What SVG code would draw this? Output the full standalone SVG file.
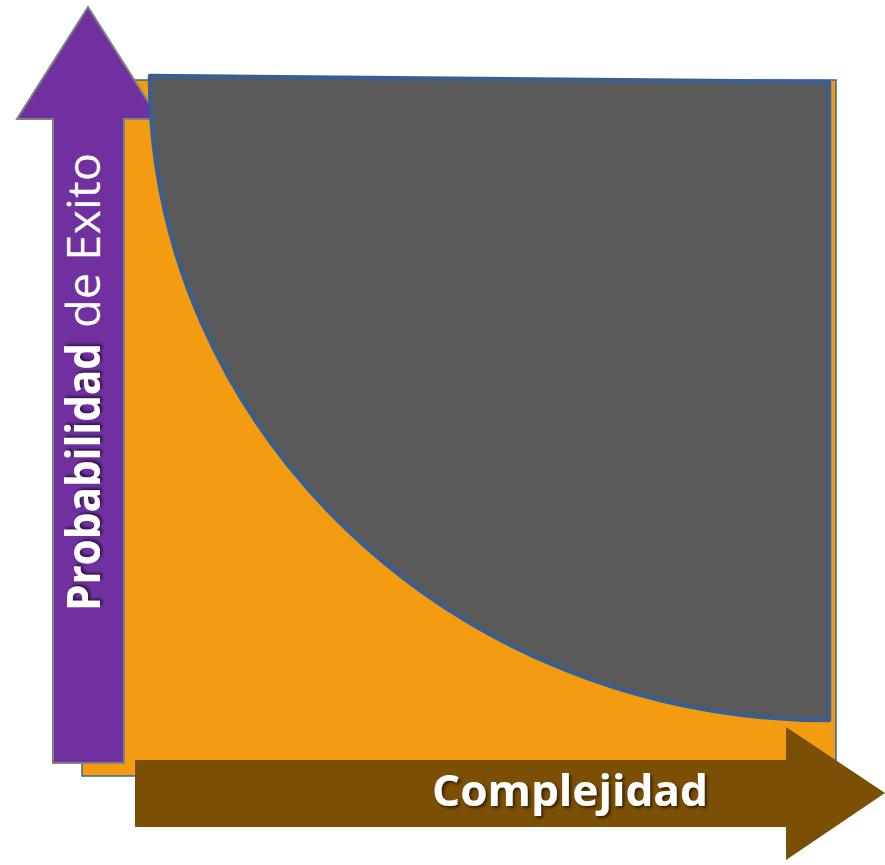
<svg xmlns="http://www.w3.org/2000/svg" width="885" height="865" viewBox="0 0 885 865">
  <defs>
    <style>
      .lbl { fill: #ffffff; font-family: "Open Sans", "Liberation Sans", sans-serif; }
      .b { font-weight: 700; }
    </style>
    <filter id="sh" x="-10%" y="-30%" width="120%" height="160%">
      <feDropShadow dx="2" dy="2" stdDeviation="1.5" flood-color="#000000" flood-opacity="0.6"/>
    </filter>
  </defs>
  <rect width="885" height="865" fill="#ffffff"/>
  <g id="background">
    <rect x="82" y="80" width="754" height="696" fill="#F39C12" stroke="#2F6AA0" stroke-width="1.5"/>
  </g>
  <g id="axis-x">
    <polygon points="135,760 786,760 786,727 885,793 786,860 786,827 135,827" fill="#7B4F05"/>
    <text class="lbl b" x="432" y="806" font-size="43" textLength="276" lengthAdjust="spacingAndGlyphs" filter="url(#sh)">Complejidad</text>
  </g>
  <g id="axis-y">
    <polygon points="88,7 159,119 124,119 124,763 53,763 53,119 17,119" fill="#7030A0" stroke="#808080" stroke-width="2"/>
    <g transform="translate(100,611) rotate(-90)">
      <text class="lbl b" x="0" y="0" font-size="46" textLength="268" lengthAdjust="spacingAndGlyphs" filter="url(#sh)">Probabilidad</text>
      <text class="lbl" x="283" y="0" font-size="46" textLength="175" lengthAdjust="spacingAndGlyphs">de Exito</text>
    </g>
  </g>
  <g id="region">
    <path d="M150,76 L829,82 L829,720 C450,720 150,427 150,76 Z" fill="#595959" stroke="#3A5F8F" stroke-width="4.5" stroke-linejoin="round"/>
  </g>
</svg>
